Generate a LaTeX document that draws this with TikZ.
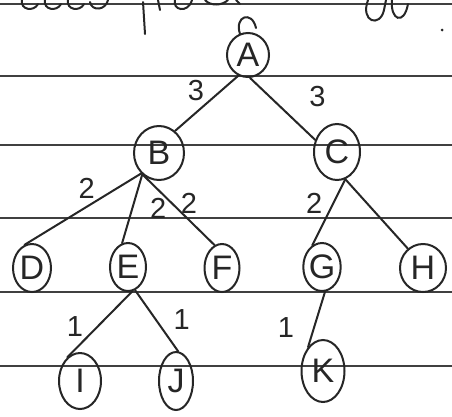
\documentclass[tikz,border=0pt]{standalone}
\usepackage{fontspec}
\setmainfont{Liberation Sans}
\usetikzlibrary{shapes.geometric}
\begin{document}
\begin{tikzpicture}[x=1pt,y=-1pt,
  ink/.style={line width=2pt,draw=black!85,line cap=round},
  vtx/.style={ellipse,draw=black!85,line width=2pt,inner sep=0pt,font=\fontsize{34}{36}\selectfont,text=black!85},
  wt/.style={font=\fontsize{29}{31}\selectfont,text=black!85,inner sep=0pt},
  rule/.style={line width=1.4pt,draw=black!75}]
\useasboundingbox[fill=white] (0,0) rectangle (452,416);
% ruled lines
\foreach \yy in {4,76,145,218,292,366} \draw[rule] (0,\yy) -- (452,\yy);
% partial handwriting at top
\draw[ink] (22,0) .. controls (20,10) and (34,12) .. (38,4);
\draw[ink] (45,0) .. controls (43,10) and (57,12) .. (61,4);
\draw[ink] (68,0) .. controls (66,10) and (80,12) .. (84,4);
\draw[ink] (90,2) .. controls (92,12) and (106,10) .. (108,0);
\draw[ink] (143,2) -- (145,34);
\draw[ink] (158,0) -- (160,10);
\draw[ink] (175,0) .. controls (172,10) and (188,14) .. (192,0);
\draw[ink] (205,0) .. controls (210,6) and (222,6) .. (228,0);
\draw[ink] (236,0) -- (240,4);
\draw[ink] (368,0) .. controls (360,22) and (380,28) .. (384,10) -- (386,0);
\draw[ink] (392,0) .. controls (390,20) and (404,26) .. (408,4);
\fill[black!85] (442,30) circle (1.5pt);
% vertices
\node[vtx,minimum width=42pt,minimum height=44pt] (A) at (248,55) {A};
\draw[ink] (240,34) .. controls (234,16) and (252,10) .. (256,28);
\node[vtx,minimum width=50pt,minimum height=54pt] (B) at (159,153) {B};
\node[vtx,minimum width=46pt,minimum height=56pt] (C) at (337,152) {C};
\node[vtx,minimum width=38pt,minimum height=48pt] (D) at (32,268) {D};
\node[vtx,minimum width=36pt,minimum height=48pt] (E) at (128,267) {E};
\node[vtx,minimum width=35pt,minimum height=48pt] (F) at (222,268) {F};
\node[vtx,minimum width=32pt,minimum height=48pt] (G) at (322,267) {G};
\node[vtx,minimum width=46pt,minimum height=48pt] (H) at (423,268) {H};
\node[vtx,minimum width=42pt,minimum height=56pt] (I) at (80,381) {I};
\node[vtx,minimum width=34pt,minimum height=58pt] (J) at (176,381) {J};
\node[vtx,minimum width=43pt,minimum height=62pt] (K) at (323,371) {K};
% edges
\draw[ink] (A.245) -- (B.54) node[wt,pos=0.26,xshift=-26pt] {3};
\draw[ink] (A.275) -- (C.151) node[wt,pos=0.3,xshift=48pt] {3};
\draw[ink] (B.229) -- (D.108) node[wt,pos=0.21,xshift=-30pt] {2};
\draw[ink] (B.232) -- (E.104) node[wt,pos=0.5,xshift=26pt] {2};
\draw[ink] (B.236) -- (F.108) node[wt,pos=0.4,xshift=17pt] {2};
\draw[ink] (C.287) -- (G.114) node[wt,pos=0.37,xshift=-19pt] {2};
\draw[ink] (C.287) -- (H.128);
\draw[ink] (E.280) -- (I.118) node[wt,pos=0.53,xshift=-23pt] {1};
\draw[ink] (E.287) -- (J.86) node[wt,pos=0.48,xshift=26pt] {1};
\draw[ink] (G.277) -- (K.122) node[wt,pos=0.65,xshift=-28pt] {1};
\end{tikzpicture}
\end{document}
